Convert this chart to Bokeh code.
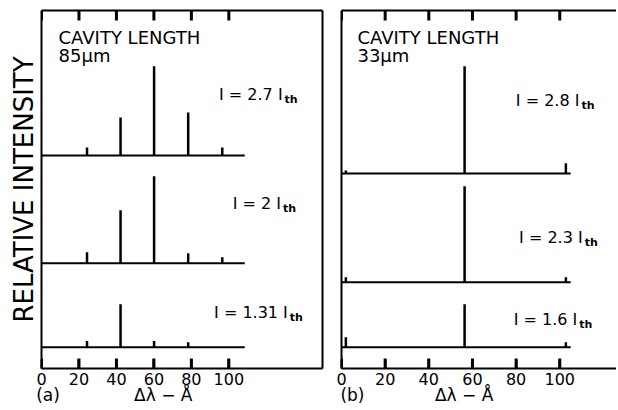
from bokeh.plotting import figure
from bokeh.models import LinearAxis, FixedTicker, Range1d, Label
from bokeh.layouts import row
from bokeh.embed import file_html
from bokeh.resources import INLINE

# ---------------- data ----------------
tick_values = [0, 20, 40, 60, 80, 100]
tick_labels = ["0", "20", "40", "60", "80", "100"]

# (a) cavity length 85 um : mode positions (delta lambda, Angstrom)
a_modes = [24.3, 42.2, 60.1, 78.3, 96.5]
a_I27 = [2.2, 10.6, 24.9, 12.0, 2.2]
a_I20 = [3.1, 14.8, 24.3, 2.8, 1.7]
a_I131 = [1.7, 12.0, 1.7, 1.4, 0.0]
a_scan = [0, 108.5]
a_currents = ["I = 2.7 I", "I = 2 I", "I = 1.31 I"]

# (b) cavity length 33 um
b_modes = [2.0, 56.4, 102.8]
b_I28 = [0.8, 29.9, 2.8]
b_I23 = [1.4, 26.8, 1.4]
b_I16 = [2.8, 12.0, 1.4]
b_scan = [0, 105]
b_currents = ["I = 2.8 I", "I = 2.3 I", "I = 1.6 I"]

x_title = "Δλ − Å"
y_title = "RELATIVE INTENSITY"

FONT = "DejaVu Sans"
Y_MAX = 100.0
TICK_LEN = 2.8  # inward tick length in y units


def make_panel(xmax, fw, mb_left, mb_right, right_border, tag, tag_x, title_x, ylabel=None):
    p = figure(frame_width=fw, frame_height=358,
               x_range=Range1d(0, xmax), y_range=Range1d(0, Y_MAX),
               x_axis_location=None, y_axis_location=None,
               output_backend="svg", toolbar_location=None,
               min_border_left=mb_left, min_border_right=mb_right,
               min_border_top=10, min_border_bottom=0)
    p.outline_line_color = None
    p.grid.visible = False
    p.background_fill_color = "white"
    p.border_fill_color = "white"

    # inward tick marks on bottom and top edges at the axis tick values
    tx = [float(t) for t in tick_values]
    n = len(tx)
    p.segment(x0=tx, x1=list(tx), y0=[0.0] * n, y1=[TICK_LEN] * n,
              line_color="black", line_width=3)
    p.segment(x0=tx, x1=list(tx), y0=[Y_MAX] * n, y1=[Y_MAX - TICK_LEN] * n,
              line_color="black", line_width=3)

    # bottom axis with numbers
    ax = LinearAxis(ticker=FixedTicker(ticks=list(tick_values)),
                    major_tick_in=9, major_tick_out=0,
                    major_tick_line_color="black", major_tick_line_width=2,
                    minor_tick_line_color=None,
                    axis_line_width=2, axis_line_color="black",
                    major_label_overrides=dict(zip(tick_values, tick_labels)),
                    major_label_text_font=FONT, major_label_text_font_size="16px",
                    major_label_text_color="black", major_label_standoff=4)
    p.add_layout(ax, "below")

    # second row under the axis: panel tag and axis title
    ax2 = LinearAxis(ticker=FixedTicker(ticks=[tag_x, title_x]),
                     major_label_overrides={tag_x: tag, title_x: x_title},
                     axis_line_color=None, major_tick_line_color=None,
                     minor_tick_line_color=None, major_tick_in=0, major_tick_out=0,
                     major_label_text_font=FONT, major_label_text_font_size="17px",
                     major_label_text_color="black", major_label_standoff=-3)
    p.add_layout(ax2, "below")

    # top frame edge
    top = LinearAxis(ticker=FixedTicker(ticks=[]),
                     major_tick_in=0, major_tick_out=0,
                     minor_tick_line_color=None, major_label_standoff=0,
                     axis_line_width=2, axis_line_color="black")
    p.add_layout(top, "above")

    sides = ["left", "right"] if right_border else ["left"]
    for loc in sides:
        sa = LinearAxis(ticker=FixedTicker(ticks=[]),
                        major_tick_in=0, major_tick_out=0,
                        minor_tick_line_color=None, major_label_standoff=0,
                        axis_line_width=2, axis_line_color="black")
        if loc == "left" and ylabel:
            sa.axis_label = ylabel
            sa.axis_label_text_font = FONT
            sa.axis_label_text_font_size = "26px"
            sa.axis_label_text_font_style = "normal"
            sa.axis_label_text_color = "black"
            sa.axis_label_standoff = 3
        p.add_layout(sa, loc)
    return p


def draw_spectrum(p, modes, heights, base, scan):
    p.segment(x0=[scan[0]], x1=[scan[1]], y0=[base], y1=[base],
              line_color="black", line_width=2)
    p.segment(x0=modes, x1=modes, y0=[base] * len(modes),
              y1=[base + h for h in heights], line_color="black", line_width=2.5)


def current_label(p, x, y, text):
    p.add_layout(Label(x=x, y=y, text=text, text_font=FONT, text_font_size="16px",
                       text_align="right", text_baseline="alphabetic", text_color="black"))
    p.add_layout(Label(x=x, y=y - 1.4, x_offset=2, text="th", text_font=FONT,
                       text_font_size="11px", text_font_style="bold",
                       text_align="left", text_baseline="alphabetic", text_color="black"))


def cavity_label(p, x, text):
    p.add_layout(Label(x=x, y=92.5, text="CAVITY LENGTH", text_font=FONT,
                       text_font_size="18px", text_baseline="alphabetic", text_color="black"))
    p.add_layout(Label(x=x, y=87.4, text=text, text_font=FONT,
                       text_font_size="18px", text_baseline="alphabetic", text_color="black"))


# ---------------- panel (a) ----------------
pa = make_panel(150, 281, 41, 9, True, "(a)", 3.5, 65, ylabel=y_title)
a_bases = [59.5, 29.4, 5.95]
for hs, b in zip([a_I27, a_I20, a_I131], a_bases):
    draw_spectrum(pa, a_modes, hs, b, a_scan)
for txt, x, y in zip(a_currents, [128.7, 127.8, 131.5], [76.5, 46.0, 15.7]):
    current_label(pa, x, y, txt)
cavity_label(pa, 9.1, "85μm")

# ---------------- panel (b) ----------------
pb = make_panel(126, 275, 10, 0, False, "(b)", 5, 56.2)
b_bases = [54.5, 24.1, 5.95]
for hs, b in zip([b_I28, b_I23, b_I16], b_bases):
    draw_spectrum(pb, b_modes, hs, b, b_scan)
for txt, x, y in zip(b_currents, [109.0, 110.5, 108.0], [75.0, 36.5, 13.6]):
    current_label(pb, x, y, txt)
cavity_label(pb, 7.3, "33μm")

layout = row(pa, pb)
open("out.html", "w").write(file_html(layout, INLINE))
